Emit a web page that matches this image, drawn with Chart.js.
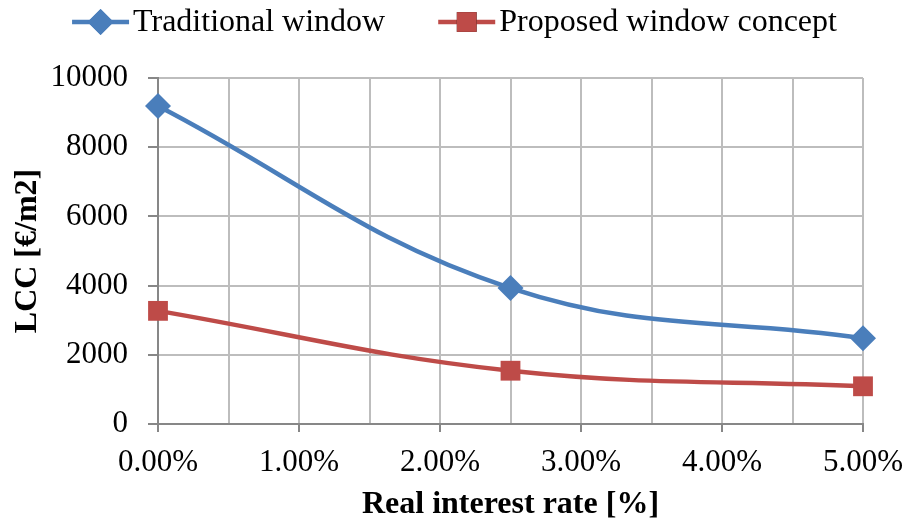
<!DOCTYPE html>
<html>
<head>
<meta charset="utf-8">
<script src="https://cdn.jsdelivr.net/npm/chart.js@4"></script>
<style>
  html, body { margin: 0; padding: 0; background: #fff; }
  #wrap { width: 909px; height: 524px; }
</style>
</head>
<body>
<div id="wrap"><canvas id="lccChart" width="909" height="524"></canvas></div>
<script>
// real interest rate [%] and LCC [€/m2]
const rates = [0, 2.5, 5];
const traditionalLCC = [9190, 3930, 2480];
const proposedLCC = [3270, 1540, 1090];
const seriesNames = ['Traditional window', 'Proposed window concept'];

const FONT = "'Liberation Serif', 'Times New Roman', serif";
const axisGrey = '#878787';
const gridGrey = '#bdbdbd';

// legend with a line + marker sample, like a spreadsheet legend
const lineLegend = {
  id: 'lineLegend',
  afterDraw(chart) {
    const c = chart.ctx;
    const sets = chart.data.datasets;
    c.save();
    c.font = '32px ' + FONT;
    c.textBaseline = 'middle';
    const sample = 57, gap = 4, spacing = 53;
    const widths = sets.map(ds => sample + gap + c.measureText(ds.label).width);
    const total = widths.reduce((a, b) => a + b, 0) + spacing * (sets.length - 1);
    let x = (chart.width - total) / 2;
    const y = 22;
    sets.forEach((ds, i) => {
      c.strokeStyle = ds.borderColor;
      c.lineWidth = ds.borderWidth;
      c.beginPath();
      c.moveTo(x, y);
      c.lineTo(x + sample, y);
      c.stroke();
      Chart.helpers.drawPoint(c, {
        pointStyle: ds.pointStyle,
        radius: ds.pointRadius,
        borderWidth: 0
      }, x + sample / 2, y);
      c.fillStyle = ds.pointBackgroundColor;
      c.fill();
      c.fillStyle = '#000';
      c.fillText(ds.label, x + sample + gap, y + 1);
      x += widths[i] + spacing;
    });
    c.restore();
  }
};

new Chart(document.getElementById('lccChart'), {
  type: 'line',
  data: {
    datasets: [
      {
        label: seriesNames[0],
        data: rates.map((r, i) => ({ x: r, y: traditionalLCC[i] })),
        borderColor: '#4a7ebb',
        backgroundColor: '#4a7ebb',
        pointBackgroundColor: '#4a7ebb',
        pointBorderWidth: 0,
        pointStyle: 'rectRot',
        pointRadius: 13,
        borderWidth: 4.5,
        tension: 0.4,
        clip: false
      },
      {
        label: seriesNames[1],
        data: rates.map((r, i) => ({ x: r, y: proposedLCC[i] })),
        borderColor: '#be4b48',
        backgroundColor: '#be4b48',
        pointBackgroundColor: '#be4b48',
        pointBorderWidth: 0,
        pointStyle: 'rect',
        pointRadius: 14,
        borderWidth: 4.5,
        tension: 0.4,
        clip: false
      }
    ]
  },
  options: {
    responsive: false,
    animation: false,
    layout: { padding: { top: 78, right: 46, left: 0, bottom: 0 } },
    plugins: {
      legend: { display: false },
      tooltip: { enabled: false }
    },
    scales: {
      x: {
        type: 'linear',
        min: 0,
        max: 5,
        afterFit(scale) {
          scale.height = 100;
          // end labels are allowed to overhang the plot edges
          scale.paddingLeft = 0;
          scale.paddingRight = 0;
        },
        ticks: {
          stepSize: 0.5,
          autoSkip: false,
          maxRotation: 0,
          padding: 12,
          color: '#000',
          font: { family: FONT, size: 31 },
          callback: v => (v % 1 === 0 ? v.toFixed(2) + '%' : '')
        },
        grid: {
          color: gridGrey,
          lineWidth: 2,
          tickLength: 8,
          tickColor: ctx => (ctx.tick && ctx.tick.value % 1 === 0 ? axisGrey : 'rgba(0,0,0,0)')
        },
        border: { color: axisGrey, width: 2 },
        title: {
          display: true,
          text: 'Real interest rate [%]',
          color: '#000',
          font: { family: FONT, size: 32, weight: 'bold' },
          padding: { top: 0, bottom: 0 }
        }
      },
      y: {
        min: 0,
        max: 10000,
        afterFit(scale) {
          scale.width = 158;
          scale.paddingTop = 0;
          scale.paddingBottom = 0;
        },
        ticks: {
          stepSize: 2000,
          padding: 20,
          color: '#000',
          font: { family: FONT, size: 31 },
          callback: v => String(v)
        },
        grid: {
          color: gridGrey,
          lineWidth: 2,
          tickLength: 10,
          tickColor: axisGrey
        },
        border: { color: axisGrey, width: 2 },
        title: {
          display: true,
          text: 'LCC [€/m2]',
          color: '#000',
          font: { family: FONT, size: 32, weight: 'bold' },
          padding: { top: 9, bottom: 0 }
        }
      }
    }
  },
  plugins: [lineLegend]
});
</script>
</body>
</html>
